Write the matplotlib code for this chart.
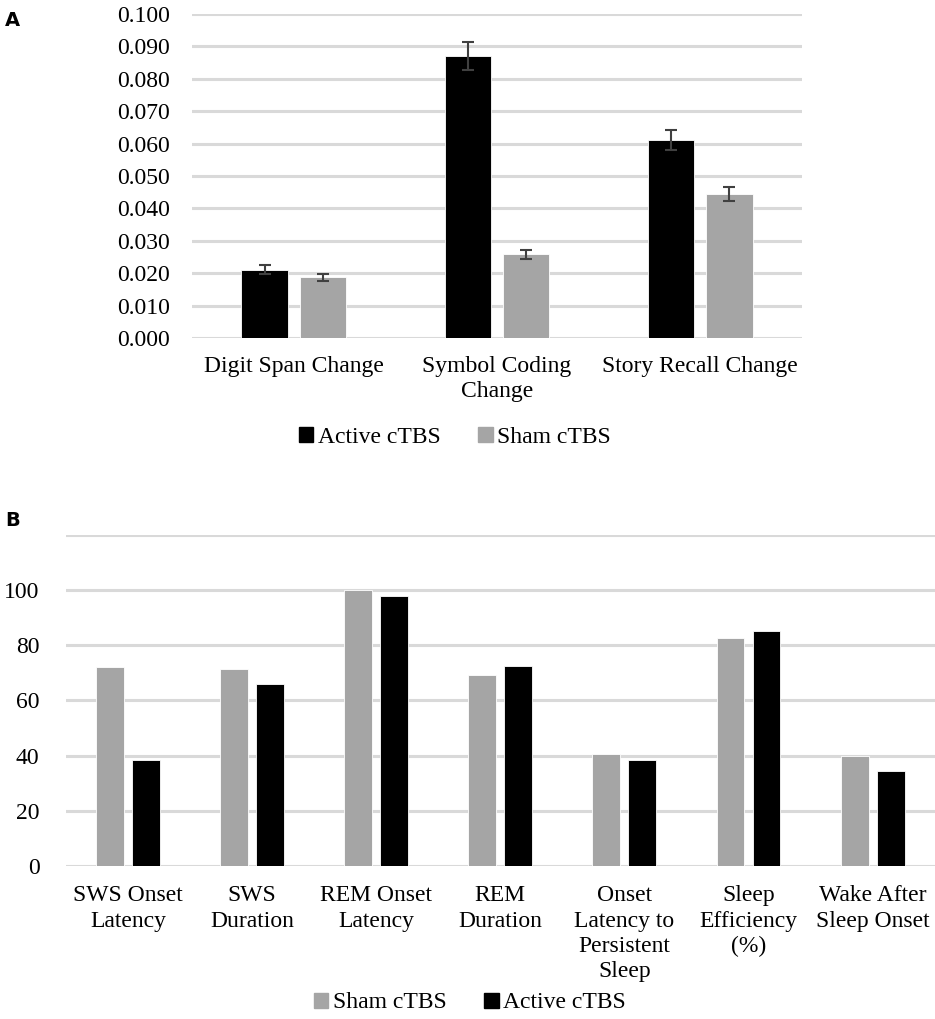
import numpy as np
import matplotlib
matplotlib.use('Agg')
import matplotlib.pyplot as plt
from matplotlib.patches import Patch

# Panel A: cognitive change scores
cog_labels = ['Digit Span Change', 'Symbol Coding\nChange', 'Story Recall Change']
cog_active = [0.0211, 0.0871, 0.0611]
cog_active_err = [0.0013, 0.0043, 0.0032]
cog_sham = [0.0187, 0.0258, 0.0444]
cog_sham_err = [0.0011, 0.0015, 0.0022]

# Panel B: sleep measures
sleep_labels = ['SWS Onset\nLatency', 'SWS\nDuration', 'REM Onset\nLatency', 'REM\nDuration',
                'Onset\nLatency to\nPersistent\nSleep', 'Sleep\nEfficiency\n(%)',
                'Wake After\nSleep Onset']
sleep_sham = [72.0, 71.5, 100.2, 69.1, 40.6, 82.6, 40.0]
sleep_active = [38.4, 65.8, 97.7, 72.5, 38.4, 85.3, 34.3]

BLACK = '#000000'
GREY = '#a5a5a5'
GRID = '#d9d9d9'
FS = 17

plt.rcParams['font.family'] = ['Liberation Serif', 'DejaVu Serif']

fig = plt.figure(figsize=(9.35, 10.19), dpi=100)

def style(ax):
    for s in ax.spines.values():
        s.set_visible(False)
    ax.tick_params(length=0, labelsize=FS)
    ax.yaxis.grid(True, color=GRID, linewidth=2.2)
    ax.set_axisbelow(True)

# ---- Panel A ----
axA = fig.add_axes([0.2053, 0.6683, 0.6525, 0.318])
x = np.arange(len(cog_labels))
w = 0.227
off = 0.143
axA.bar(x - off, cog_active, w, color=BLACK, edgecolor='white', linewidth=0.6,
        yerr=cog_active_err, ecolor='#404040', capsize=4, error_kw=dict(elinewidth=1.5, capthick=1.5))
axA.bar(x + off, cog_sham, w, color=GREY, edgecolor='white', linewidth=0.6,
        yerr=cog_sham_err, ecolor='#404040', capsize=4, error_kw=dict(elinewidth=1.5, capthick=1.5))
axA.set_xlim(-0.5, len(cog_labels) - 0.5)
axA.set_ylim(0, 0.1)
axA.set_yticks(np.arange(0, 0.1001, 0.01))
axA.set_yticklabels([f'{v:.3f}' for v in np.arange(0, 0.1001, 0.01)])
axA.set_xticks(x)
axA.set_xticklabels(cog_labels, linespacing=1.27)
style(axA)
axA.tick_params(axis='y', pad=16)
axA.tick_params(axis='x', pad=13)
axA.legend(handles=[Patch(color=BLACK, label='Active cTBS'), Patch(color=GREY, label='Sham cTBS')],
           loc='center', bbox_to_anchor=(455 / 935, 1 - 437 / 1019), bbox_transform=fig.transFigure,
           ncol=2, frameon=False, fontsize=FS, handlelength=0.6, handleheight=0.6,
           handletextpad=0.2, columnspacing=1.6)

# ---- Panel B ----
axB = fig.add_axes([0.0706, 0.1502, 0.929, 0.3248])
x = np.arange(len(sleep_labels))
w = 0.225
off = 0.145
axB.bar(x - off, sleep_sham, w, color=GREY, edgecolor='white', linewidth=0.6)
axB.bar(x + off, sleep_active, w, color=BLACK, edgecolor='white', linewidth=0.6)
axB.set_xlim(-0.5, len(sleep_labels) - 0.5)
axB.set_ylim(0, 120)
axB.set_yticks(np.arange(0, 121, 20))
axB.set_yticklabels([str(v) if v < 120 else '' for v in range(0, 121, 20)])
axB.set_xticks(x)
axB.set_xticklabels(sleep_labels, linespacing=1.27)
style(axB)
axB.tick_params(axis='y', pad=19)
axB.tick_params(axis='x', pad=14)
axB.legend(handles=[Patch(color=GREY, label='Sham cTBS'), Patch(color=BLACK, label='Active cTBS')],
           loc='center', bbox_to_anchor=(470 / 935, 1 - 1003 / 1019), bbox_transform=fig.transFigure,
           ncol=2, frameon=False, fontsize=FS, handlelength=0.6, handleheight=0.6,
           handletextpad=0.2, columnspacing=1.6)

fig.text(5 / 935, 1 - 20 / 1019, 'A', fontsize=14, fontweight='bold', family='DejaVu Sans', va='center')
fig.text(5 / 935, 1 - 521 / 1019, 'B', fontsize=14, fontweight='bold', family='DejaVu Sans', va='center')

fig.savefig('out.png', dpi=100)
